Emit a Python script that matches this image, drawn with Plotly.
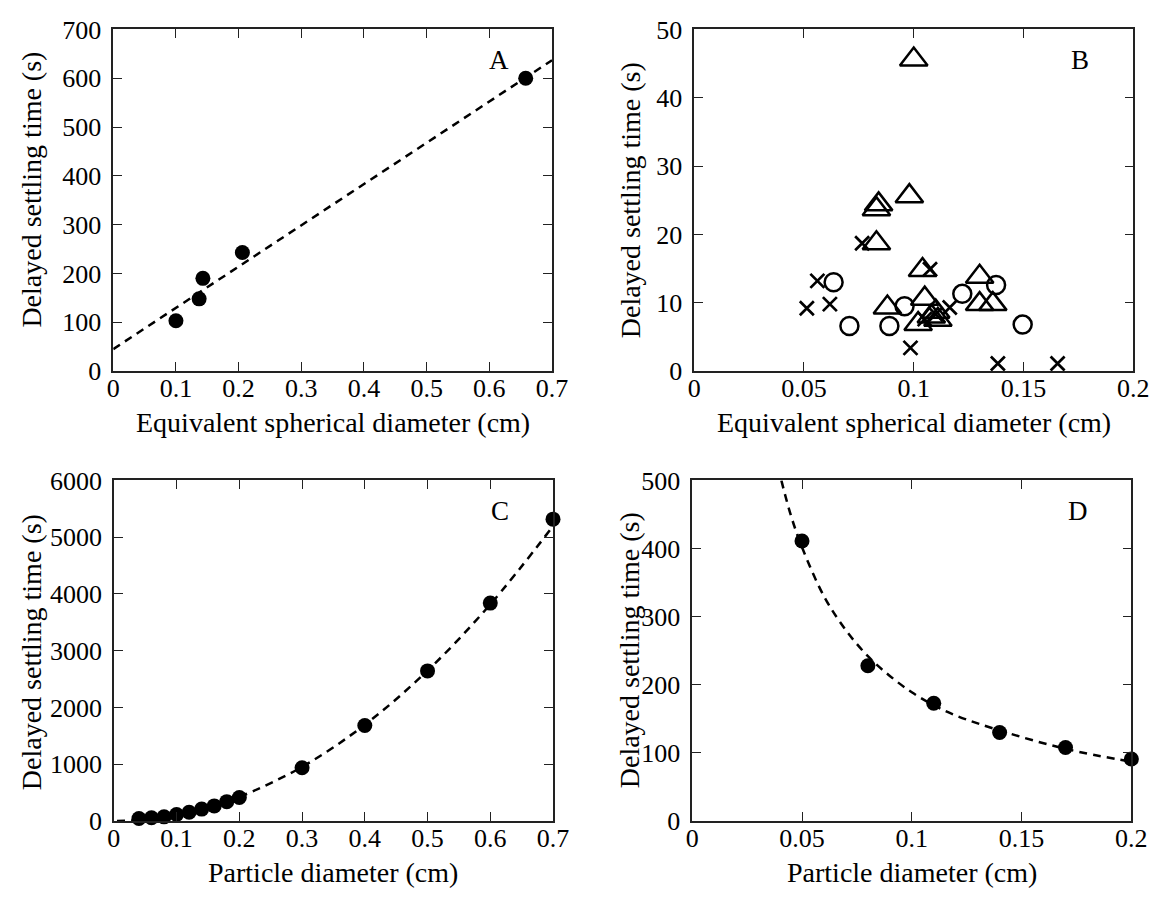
import plotly.graph_objects as go

W, H = 1166, 897

# ---------------- Data ----------------
# Panel A
a_x = [0.100, 0.137, 0.143, 0.206, 0.658]
a_y = [103, 148, 190, 243, 600]
a_fit_x = [0.0, 0.7]
a_fit_y = [45, 637]

# Panel B (three symbol groups)
b_tri_x = [0.100, 0.098, 0.084, 0.083, 0.083, 0.104, 0.130, 0.088, 0.105, 0.102, 0.110, 0.111, 0.108, 0.130, 0.136]
b_tri_y = [45.6, 25.6, 24.4, 23.7, 18.7, 14.8, 13.8, 9.3, 10.6, 6.9, 8.7, 7.5, 8.0, 9.8, 9.8]
b_circ_x = [0.0635, 0.0707, 0.0889, 0.0958, 0.1221, 0.1375, 0.1496]
b_circ_y = [13.0, 6.6, 6.6, 9.5, 11.3, 12.6, 6.8]
b_cross_x = [0.0513, 0.0561, 0.0618, 0.0765, 0.1074, 0.0985, 0.105, 0.110, 0.1164, 0.1383, 0.1655]
b_cross_y = [9.2, 13.2, 9.8, 18.7, 14.9, 3.4, 7.6, 8.3, 9.3, 1.1, 1.1]

# Panel C
c_x = [0.04, 0.06, 0.08, 0.10, 0.12, 0.14, 0.16, 0.18, 0.20, 0.30, 0.40, 0.50, 0.60, 0.70]
c_y = [45, 57, 74, 114, 154, 210, 267, 341, 415, 938, 1683, 2645, 3839, 5318]
c_fit_x = [0.005, 0.05, 0.10, 0.15, 0.20, 0.30, 0.40, 0.50, 0.60, 0.70]
c_fit_y = [0, 27, 106, 239, 424, 954, 1696, 2650, 3816, 5194]

# Panel D
d_x = [0.05, 0.08, 0.11, 0.14, 0.17, 0.20]
d_y = [411, 228, 173, 130, 108, 91]
d_fit_x = [0.0406, 0.045, 0.05, 0.06, 0.07, 0.08, 0.09, 0.10, 0.11, 0.12, 0.14, 0.17, 0.20]
d_fit_y = [500, 448, 402, 330, 280, 242, 213, 189, 170, 155, 133, 106, 87]

panel_labels = ["A", "B", "C", "D"]
x_titles = ["Equivalent spherical diameter (cm)", "Equivalent spherical diameter (cm)",
            "Particle diameter (cm)", "Particle diameter (cm)"]
y_title = "Delayed settling time (s)"

# ---------------- Layout helpers ----------------
FONT = "Liberation Serif, Times New Roman, serif"
def px(x):
    return x / W
def py(y):
    return 1 - y / H

# plot-area boxes in pixels (left, right, top, bottom)
boxes = {
    1: (108.4, 556, 16, 369),
    2: (701, 1149, 16, 369),
    3: (109, 557, 482, 834),
    4: (699, 1147, 482, 834),
}

fig = go.Figure()

line_dash = "8px,6px"
dot = dict(color="black", size=15)

# A
fig.add_trace(go.Scatter(x=a_fit_x, y=a_fit_y, mode="lines", line=dict(color="black", width=2.5, dash=line_dash),
                         xaxis="x", yaxis="y", cliponaxis=False))
fig.add_trace(go.Scatter(x=a_x, y=a_y, mode="markers", marker=dot, xaxis="x", yaxis="y", cliponaxis=False))

# B
fig.add_trace(go.Scatter(x=b_tri_x, y=b_tri_y, mode="markers",
                         marker=dict(symbol="triangle-up-open", size=24, color="black", line=dict(width=2.5, color="black")),
                         xaxis="x2", yaxis="y2", cliponaxis=False))
fig.add_trace(go.Scatter(x=b_circ_x, y=b_circ_y, mode="markers",
                         marker=dict(symbol="circle-open", size=18, color="black", line=dict(width=2.5, color="black")),
                         xaxis="x2", yaxis="y2", cliponaxis=False))
fig.add_trace(go.Scatter(x=b_cross_x, y=b_cross_y, mode="markers",
                         marker=dict(symbol="x-thin-open", size=14, color="black", line=dict(width=2.7, color="black")),
                         xaxis="x2", yaxis="y2", cliponaxis=False))

# C
fig.add_trace(go.Scatter(x=c_fit_x, y=c_fit_y, mode="lines",
                         line=dict(color="black", width=2.5, dash=line_dash, shape="spline"),
                         xaxis="x3", yaxis="y3", cliponaxis=False))
fig.add_trace(go.Scatter(x=c_x, y=c_y, mode="markers", marker=dot, xaxis="x3", yaxis="y3", cliponaxis=False))

# D
fig.add_trace(go.Scatter(x=d_fit_x, y=d_fit_y, mode="lines",
                         line=dict(color="black", width=2.5, dash=line_dash, shape="spline"),
                         xaxis="x4", yaxis="y4", cliponaxis=False))
fig.add_trace(go.Scatter(x=d_x, y=d_y, mode="markers", marker=dot, xaxis="x4", yaxis="y4", cliponaxis=False))

tick_font = dict(family=FONT, size=26, color="black")

def axis_common():
    return dict(showline=True, linecolor="#222", linewidth=1.5, mirror="ticks",
                ticks="inside", ticklen=9, tickwidth=1.3, tickcolor="#222",
                showgrid=False, zeroline=False, tickfont=tick_font, fixedrange=True)

ranges = {
    1: dict(x=[0, 0.7], dx=0.1, y=[0, 700], dy=100),
    2: dict(x=[0, 0.2], dx=0.05, y=[0, 50], dy=10),
    3: dict(x=[0, 0.7], dx=0.1, y=[0, 6000], dy=1000),
    4: dict(x=[0, 0.2], dx=0.05, y=[0, 500], dy=100),
}

layout = dict(width=W, height=H, margin=dict(l=0, r=0, t=0, b=0),
              paper_bgcolor="white", plot_bgcolor="white", showlegend=False,
              font=dict(family=FONT, color="black"))

annotations = []
for i in range(1, 5):
    l, r, t, b = boxes[i]
    sx = "" if i == 1 else str(i)
    xa = axis_common()
    xa.update(domain=[px(l), px(r)], range=ranges[i]["x"], dtick=ranges[i]["dx"], tick0=0,
              anchor="y" + sx, ticklabelstandoff=-7)
    ya = axis_common()
    ya.update(domain=[py(b), py(t)], range=ranges[i]["y"], dtick=ranges[i]["dy"], tick0=0,
              anchor="x" + sx, tickformat="d", ticklabelstandoff=5)
    layout["xaxis" + sx] = xa
    layout["yaxis" + sx] = ya

    cx = (l + r) / 2
    # x title
    annotations.append(dict(text=x_titles[i - 1], x=px(cx), y=py(b + 53), xref="paper", yref="paper",
                            showarrow=False, xanchor="center", yanchor="middle",
                            font=dict(family=FONT, size=28, color="black")))
    # panel letter
    annotations.append(dict(text=panel_labels[i - 1], x=px(r - 54), y=py(t + 32), xref="paper", yref="paper",
                            showarrow=False, xanchor="center", yanchor="middle",
                            font=dict(family=FONT, size=27, color="black")))

# y titles
ytitle_pos = {1: (25, 182), 2: (636, 192), 3: (25, 660), 4: (635, 657)}
for i, (xx, yy) in ytitle_pos.items():
    annotations.append(dict(text=y_title, x=px(xx), y=py(yy), xref="paper", yref="paper",
                            showarrow=False, xanchor="center", yanchor="middle", textangle=-90,
                            font=dict(family=FONT, size=28, color="black")))

layout["annotations"] = annotations
fig.update_layout(**layout)
fig.write_html("out.html")
